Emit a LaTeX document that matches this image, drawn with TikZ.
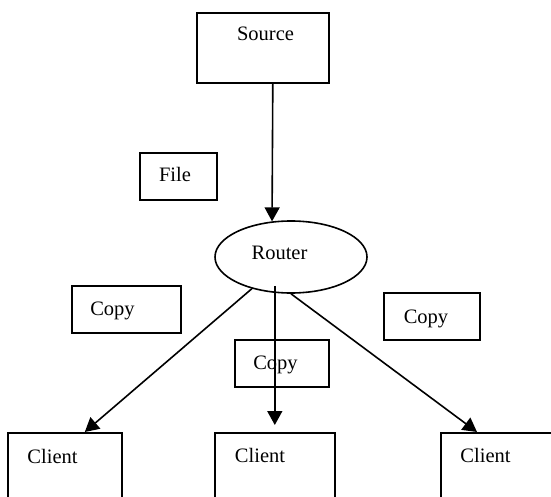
\documentclass[tikz,border=0pt]{standalone}
\usepackage{fontspec}
\setmainfont{Liberation Serif}
\usetikzlibrary{positioning,calc,shapes.geometric,arrows.meta}

\begin{document}
\begin{tikzpicture}[x=1pt,y=-1pt]

\tikzstyle{every node}=[font=\fontsize{20.5}{24}\selectfont]
\tikzstyle{box}=[draw, line width=1.6, inner sep=0, anchor=north west]
\tikzstyle{txt}=[inner sep=0, anchor=base]
\tikzstyle{arr}=[-{Triangle[length=14pt,width=15pt]}, line width=1.6]

\useasboundingbox (0,0) rectangle (551,497);
\clip (0,0) rectangle (551,497);

% nodes %
\node[box, minimum width=132, minimum height=70] (s) at (196,12) {};
\node[box, minimum width=77, minimum height=47] (f) at (139,152) {};
\node[draw, ellipse, line width=1.6, inner sep=0, minimum width=152, minimum height=72] (r) at (291,257) {};
\node[box, minimum width=109, minimum height=47] (c1) at (71,285) {};
\node[box, minimum width=94, minimum height=47] (c2) at (234,339) {};
\node[box, minimum width=96, minimum height=47] (c3) at (383,292) {};
\node[box, minimum width=114, minimum height=80] (k1) at (7,432) {};
\node[box, minimum width=120, minimum height=80] (k2) at (214,432) {};
\node[box, minimum width=160, minimum height=80] (k3) at (440,432) {};

% texts %
\node[txt] (st) at (265.5,41) {Source};
\node[txt] (ft) at (175,182) {File};
\node[txt] (rtx) at (279.5,259) {Router};
\node[txt] (c1t) at (112.5,315) {Copy};
\node[txt] (c3t) at (426,323) {Copy};
\node[txt] (k1t) at (52.5,463) {Client};
\node[txt] (k2t) at (260,462) {Client};
\node[txt] (k3t) at (485.5,462) {Client};

% edges %
\draw[arr] ($(s.south)+(10,0)$) -- (r.118);
\draw[arr] (r.219) -- ($(k1.north)+(20,0)$);
\draw[arr] (r.south) -- ($(k3.north west)+(37,0)$);
\node[txt] (c2t) at (275.5,369) {Copy};
\draw[arr] ($(r.south -| k2.north)+(0,-8)$) -- ($(k2.north)+(0,-7)$);

\end{tikzpicture}
\end{document}
